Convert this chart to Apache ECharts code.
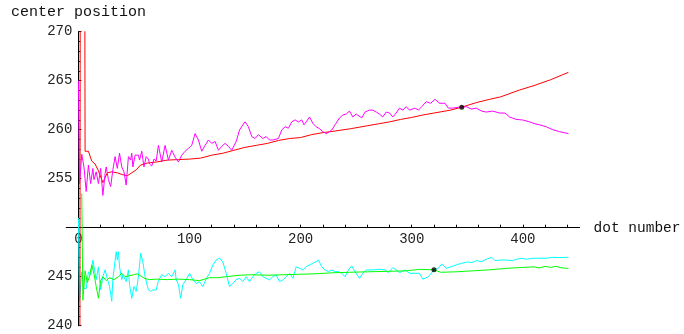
<!DOCTYPE html>
<html>
<head>
<meta charset="utf-8">
<script src="https://cdn.jsdelivr.net/npm/echarts@6/dist/echarts.min.js"></script>
<style>
  html, body { margin: 0; padding: 0; background: #fff; }
  #chart { width: 684px; height: 334px; }
</style>
</head>
<body>
<div id="chart"></div>
<script>
// ---- data (dot number, center position) ----
const magentaX = [0,1,3,5,7,9,11,13,14,16,18,20,22,24,25,27,29,31,33,35,37,39,41,43,45,47,48,49,51,54,55,57,59,61,63,64,66,68,70,72,75,78,81,84,87,90,93,96,99,102,105,108,111,114,117,120,123,126,129,132,135,138,142,145,148,150,153,156,159,162,166,169,172,175,180,183,186,189,192,195,198,201,203,205,208,211,214,217,220,223,226,228,231,235,238,241,244,247,250,255,258,262,265,268,271,274,277,280,283,286,289,292,295,298,303,306,309,313,317,321,325,330,333,337,342,345,349,354,358,363,367,373,379,384,388,394,400,406,411,415,421,427,433,441];
const magentaY = [265,254.5,257.5,256.2,253.7,256.4,254.5,256.05,254.9,255.7,254.5,256.05,253.3,255.5,256.2,254.9,254.2,255.9,257.25,256.05,257.6,256.2,255.7,254.35,257.25,256.9,257.6,256.2,257.4,257.4,256.9,257.8,256.2,257.25,257.0,256.5,256.3,257.0,256.8,258.4,256.7,258.4,256.9,257.9,257.2,256.7,257.4,257.8,258.1,258.4,259.6,258.95,257.8,258.4,258.95,258.6,258.8,257.9,258.3,258.6,258.3,257.9,258.8,259.97,260.5,260.8,260.3,259.3,259.1,259.5,259.1,259.3,258.95,258.95,259.1,259.97,260.3,260.15,260.8,261.0,260.8,261.0,260.5,260.8,261.3,260.65,260.3,260.1,259.8,259.6,259.8,259.97,260.5,261.2,261.5,261.6,261.9,261.3,261.6,261.2,261.8,262.0,262.0,261.8,261.6,261.3,261.8,261.7,261.3,261.7,262.2,262.0,262.35,262.0,262.2,262.0,262.35,262.86,262.7,263.1,262.7,262.7,262.2,262.2,262.3,262.3,262.35,262.1,262.2,261.9,261.8,261.9,261.7,261.7,261.3,261.05,260.99,260.8,260.6,260.5,260.3,260.0,259.8,259.6];

const redX = [1,2,5,6,9,12,15,18,22,26,30,35,40,44,48,52,56,62,70,80,90,100,110,120,130,140,150,160,170,180,190,200,210,220,230,245,260,270,280,290,300,310,320,335,345,358,370,380,397,410,425,441];
const redY = [200,320,320,257.8,257.8,256.8,256.5,255.8,254.6,255.6,255.7,255.6,255.4,255.3,255.6,255.9,256.4,256.6,256.7,256.9,256.95,257.0,257.1,257.4,257.6,257.9,258.2,258.4,258.6,258.9,259.1,259.2,259.5,259.7,259.85,260.1,260.4,260.6,260.8,261.05,261.25,261.5,261.7,262.0,262.3,262.76,263.1,263.35,264.05,264.5,265.1,265.85];

const cyanX = [0,1,3,5,7,9,11,13,15,16,18,20,22,24,26,28,30,31,34,35,36,37,39,40,43,45,46,48,50,52,54,56,58,60,61,63,65,67,70,72,75,78,81,84,87,88,90,92,94,97,100,103,106,109,112,115,118,121,124,127,130,133,136,139,142,145,148,151,154,157,160,163,166,169,172,175,178,181,184,187,190,193,196,199,202,205,208,211,214,216,219,222,225,228,231,234,237,240,243,246,249,253,256,259,265,271,276,279,283,286,289,294,298,303,307,310,315,320,324,327,331,336,340,345,350,354,358,363,367,372,375,380,385,391,394,399,403,409,415,421,427,433,441];
const cyanY = [251,242.5,245.5,243.8,243.8,245.5,245.2,246.7,245.35,244.7,246.0,243.65,245.0,245.7,244.8,244.0,242.5,244.8,247.56,246.7,247.56,246.0,244.7,245.2,244.5,245.7,244.2,242.8,244.0,243.5,245.0,247.4,246.5,245.0,245.2,243.65,243.5,243.65,243.65,244.6,245.2,245.0,245.35,245.0,245.7,244.7,244.2,242.8,244.2,244.7,245.35,244.7,244.3,244.5,244.0,244.8,245.35,246.2,246.7,246.9,246.5,245.35,244.0,244.3,244.7,244.84,244.5,245.0,244.5,245.0,245.35,245.5,245.0,244.84,244.67,245.0,245.18,244.5,244.67,245.0,245.35,244.84,246.0,245.86,245.69,246.03,246.2,246.37,246.54,246.7,246.03,245.69,245.52,245.69,245.52,245.52,245.35,245.0,245.69,246.1,245.5,244.84,245.35,245.69,245.69,245.76,245.69,245.42,245.93,245.69,245.42,245.69,245.35,245.35,245.35,244.74,245.0,245.69,245.86,246.3,245.86,246.03,246.2,246.37,246.5,246.44,246.64,246.54,246.78,246.98,246.64,246.7,246.7,246.64,246.78,246.88,246.78,246.88,246.88,246.88,246.98,246.95,246.98];

const greenX = [3,4,6,8,10,12,14,16,18,20,22,25,28,32,36,39,42,46,50,53,57,60,64,70,80,90,100,109,118,125,133,145,155,170,185,200,214,229,244,260,280,295,307,320,326,340,355,370,385,400,410,415,420,425,430,435,441];
const greenY = [253.5,242.6,245.6,244.4,245.0,246.2,245.3,244.0,242.8,244.6,245.0,244.6,244.9,244.7,245.0,245.35,245.0,245.1,245.2,245.3,245.0,244.8,244.7,244.75,244.7,244.75,244.7,244.6,244.9,244.9,245.0,245.15,245.2,245.15,245.2,245.25,245.3,245.4,245.45,245.5,245.55,245.6,245.75,245.7,245.45,245.5,245.6,245.7,245.85,245.95,246.0,245.9,246.05,245.95,246.05,245.9,245.85];

const crossX = [345, 320];
const crossY = [262.3, 245.7];

const xLabelTicks = [0, 100, 200, 300, 400];
const xMinorTicks = [0,20,40,60,80,100,120,140,160,180,200,220,240,260,280,300,320,340,360,380,400,420,440];

// axes cross at (0, 250)
const xCross = 0;
const yCross = 250;
const yMinV = 240, yMaxV = 270;
const xMinV = -11, xMaxV = 451;

const W = 684, H = 334;
const gridL = 66.2, gridR = 104.5, gridT = 31.7, gridB = 8.3;
const gridW = W - gridL - gridR, gridH = H - gridT - gridB;
// move axes from grid edges to the crossing point
const xAxisOffset = -((yCross - yMinV) / (yMaxV - yMinV)) * gridH;
const yAxisOffset = -((xCross - xMinV) / (xMaxV - xMinV)) * gridW;

const font = "'Courier New', 'Liberation Mono', monospace";
const pairs = (xs, ys) => xs.map((x, i) => [x, ys[i]]);

const chart = echarts.init(document.getElementById('chart'), null, { renderer: 'canvas' });

function lineSeries(name, xs, ys, color) {
  return {
    name, type: 'line', data: pairs(xs, ys), showSymbol: false, symbol: 'none',
    lineStyle: { color, width: 1 }, clip: true, animation: false, z: 2
  };
}

chart.setOption({
  animation: false,
  grid: { left: gridL, right: gridR, top: gridT, bottom: gridB, containLabel: false, outerBoundsMode: 'none' },
  xAxis: {
    type: 'value', min: xMinV, max: xMaxV, position: 'bottom', offset: xAxisOffset,
    name: 'dot number', nameLocation: 'end', nameGap: 14,
    nameTextStyle: { fontFamily: font, fontSize: 14.5, color: '#111', padding: [4, 0, 0, 0] },
    axisLine: { onZero: false, lineStyle: { color: '#000', width: 1 } },
    axisTick: { show: true, inside: true, length: 3, customValues: xMinorTicks, lineStyle: { color: '#000' } },
    axisLabel: { customValues: xLabelTicks, margin: 5, fontFamily: font, fontSize: 14, color: '#222' },
    splitLine: { show: false }
  },
  yAxis: {
    type: 'value', min: yMinV, max: yMaxV, interval: 5, position: 'left', offset: yAxisOffset,
    name: 'center position', nameLocation: 'end', nameGap: 12,
    nameTextStyle: { fontFamily: font, fontSize: 15, color: '#111' },
    axisLine: { onZero: false, lineStyle: { color: '#000', width: 1 } },
    axisTick: { show: true, inside: true, length: 3, lineStyle: { color: '#000' } },
    minorTick: { show: true, splitNumber: 5, length: 2, lineStyle: { color: '#000' } },
    axisLabel: {
      margin: 6, fontFamily: font, fontSize: 14, color: '#222',
      formatter: v => (v === yCross ? '' : String(v))
    },
    splitLine: { show: false }
  },
  series: [
    lineSeries('cyan', cyanX, cyanY, '#00ffff'),
    lineSeries('green', greenX, greenY, '#00ff00'),
    lineSeries('red', redX, redY, '#ff0000'),
    lineSeries('magenta', magentaX, magentaY, '#ff00ff'),
    {
      name: 'crossings', type: 'scatter', data: pairs(crossX, crossY),
      symbol: 'circle', symbolSize: 5, itemStyle: { color: '#000' }, z: 5, animation: false
    }
  ]
});
</script>
</body>
</html>
